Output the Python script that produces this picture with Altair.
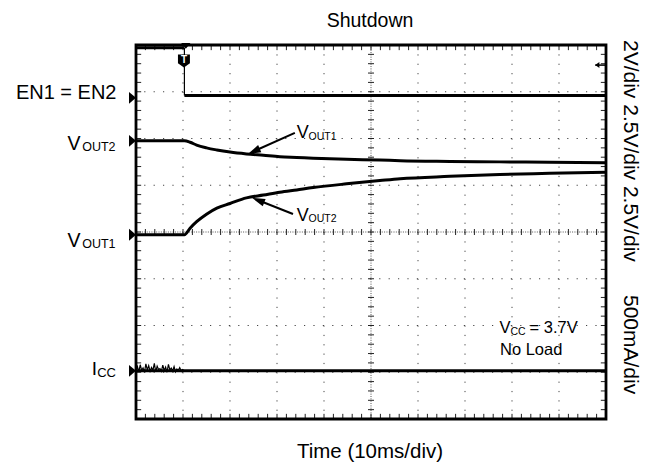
import math
import numpy as np
import pandas as pd
import altair as alt

# ---------------- data ----------------
# time in ms (10 ms/div, 10 divisions); level in divisions (8 divisions)
t_vout = [0, 10.3, 11.5, 12.9, 15, 17.2, 20, 23.5, 27.1, 30.6, 34.2, 37.7, 44.8, 51.9, 56.2, 66.8, 77.4, 88, 100]
vout_upper = [5.95, 5.95, 5.92, 5.86, 5.80, 5.755, 5.71, 5.67, 5.64, 5.61, 5.595, 5.58, 5.555, 5.54, 5.525, 5.51, 5.50, 5.49, 5.48]
vout_lower = [3.94, 3.94, 4.08, 4.22, 4.38, 4.51, 4.61, 4.73, 4.79, 4.85, 4.90, 4.95, 5.03, 5.10, 5.14, 5.19, 5.23, 5.255, 5.28]

en_high_t = [0, 10.3]
en_high_v = [7.94, 7.94]
en_edge_t = [10.3, 10.3]
en_edge_v = [7.94, 6.92]
en_low_t = [10.3, 100]
en_low_v = [6.92, 6.92]

icc_base_t = [0, 100]
icc_base_v = [1.03, 1.03]
icc_noise_t = [0.0, 0.3, 0.6, 0.9, 1.2, 1.5, 1.8, 2.1, 2.4, 2.7, 3.0, 3.3, 3.6, 3.9, 4.2, 4.5, 4.8,
               5.1, 5.4, 5.7, 6.0, 6.3, 6.6, 6.9, 7.2, 7.5, 7.8, 8.1, 8.4, 8.7, 9.0, 9.3, 9.6, 9.9, 10.3]
icc_noise_v = [1.03, 1.12, 1.01, 1.16, 1.04, 1.09, 1.00, 1.18, 1.05, 1.14, 1.02, 1.10, 1.04, 1.19, 1.01, 1.13, 1.06,
               1.08, 1.02, 1.15, 1.04, 1.11, 1.00, 1.17, 1.05, 1.09, 1.03, 1.12, 1.01, 1.07, 1.04, 1.10, 1.03, 1.06, 1.03]

marker_levels = [6.87, 5.95, 3.94, 1.03]

arrow_start_t = [33.8, 33.4]
arrow_start_v = [6.12, 4.385]
arrow_tip_t = [23.8, 24.7]
arrow_tip_v = [5.67, 4.73]

trigger_t = [10.2]
trigger_v = [7.66]
trig_pos_t = [10.6]
trig_pos_v = [7.92]
trig_level_v = [7.57]

# ---------------- layout ----------------
W, H = 470, 374
PX_T = W / 100.0   # px per ms
PX_V = H / 8.0     # px per division
FONT = "Liberation Sans"

xs = alt.Scale(domain=[0, 100], nice=False, zero=False)
ys = alt.Scale(domain=[0, 8], nice=False, zero=False)


def X(f):
    return alt.X(f, type="quantitative", scale=xs, axis=None)


def Y(f):
    return alt.Y(f, type="quantitative", scale=ys, axis=None)


def X2(f):
    return alt.X2(f)


def Y2(f):
    return alt.Y2(f)


def line(ts, vs, width, interp="linear"):
    df = pd.DataFrame({"t": ts, "v": vs})
    return alt.Chart(df).mark_line(color="black", strokeWidth=width, interpolate=interp,
                                   strokeCap="butt").encode(x=X("t"), y=Y("v"))


def txt(s, x, y, size, align="left", angle=0, baseline="alphabetic"):
    return alt.Chart(pd.DataFrame({"a": [0]})).mark_text(
        text=s, align=align, baseline=baseline, fontSize=size, font=FONT, color="black", angle=angle
    ).encode(x=alt.value(x), y=alt.value(y))


layers = []

# grid (dotted)
gx = pd.DataFrame({"t": [10, 20, 30, 40, 60, 70, 80, 90]})
gy = pd.DataFrame({"v": [1, 2, 3, 5, 6, 7]})
layers.append(alt.Chart(gx).mark_rule(color="#444", strokeWidth=1, strokeDash=[1.2, 8.15]).encode(x=X("t")))
layers.append(alt.Chart(gy).mark_rule(color="#444", strokeWidth=1, strokeDash=[1.2, 8.2]).encode(y=Y("v")))
# centre cross
layers.append(alt.Chart(pd.DataFrame({"t": [50]})).mark_rule(color="#555", strokeWidth=1, strokeDash=[1, 1.34]).encode(x=X("t")))
layers.append(alt.Chart(pd.DataFrame({"v": [4]})).mark_rule(color="#555", strokeWidth=1, strokeDash=[1, 1.35]).encode(y=Y("v")))

# minor ticks
mt = np.arange(2, 100, 2)
mv = np.round(np.arange(0.2, 8.0, 0.2), 3)
rows = []
for t in mt:
    rows.append((t, 0, t, 0.11))
    rows.append((t, 8, t, 7.89))
    rows.append((t, 4 - 3 / PX_V, t, 4 + 3 / PX_V))
for v in mv:
    rows.append((0, v, 1.1, v))
    rows.append((100, v, 98.9, v))
    rows.append((50 - 3 / PX_T, v, 50 + 3 / PX_T, v))
ticks = pd.DataFrame(rows, columns=["x", "y", "x2", "y2"])
layers.append(alt.Chart(ticks).mark_rule(color="#222", strokeWidth=1).encode(
    x=X("x"), y=Y("y"), x2=X2("x2"), y2=Y2("y2")))

# traces
layers.append(line(en_high_t, en_high_v, 3))
layers.append(line(en_edge_t, en_edge_v, 1.2))
layers.append(line(en_low_t, en_low_v, 3))
layers.append(line(t_vout, vout_upper, 3, "monotone"))
layers.append(line(t_vout, vout_lower, 3, "monotone"))
layers.append(line(icc_base_t, icc_base_v, 3))
layers.append(line(icc_noise_t, icc_noise_v, 1.2))

# channel reference markers on the left edge
mk = pd.DataFrame({"t": [0] * len(marker_levels), "v": marker_levels})
layers.append(alt.Chart(mk).mark_point(shape="M0,0L-1,-0.85L-1,0.85Z", filled=True, color="black",
                                       opacity=1, size=196, strokeWidth=0).encode(x=X("t"), y=Y("v")))

# trigger markers
trg = pd.DataFrame({"t": trigger_t, "v": trigger_v})
layers.append(alt.Chart(trg).mark_point(shape="M-0.92,-1L0.92,-1L0.92,0.35L0,1L-0.92,0.35Z", filled=True,
                                        color="black", opacity=1, size=169, strokeWidth=0).encode(x=X("t"), y=Y("v")))
layers.append(alt.Chart(trg).mark_text(text="T", fontSize=10, fontWeight="bold", color="white", font=FONT,
                                       align="center", baseline="middle", dy=-1).encode(x=X("t"), y=Y("v")))
tp = pd.DataFrame({"t": trig_pos_t, "v": trig_pos_v})
layers.append(alt.Chart(tp).mark_point(shape="M0,0L-1,-1.2L1,-1.2Z", filled=True, color="black", opacity=1,
                                       size=88, strokeWidth=0).encode(x=X("t"), y=Y("v")))
tl = pd.DataFrame({"t": [97.7], "t2": [100], "v": trig_level_v})
layers.append(alt.Chart(tl).mark_rule(color="black", strokeWidth=1.5).encode(x=X("t"), x2=X2("t2"), y=Y("v")))
layers.append(alt.Chart(tl).mark_point(shape="M0,0L1.4,-1L1.4,1Z", filled=True, color="black", opacity=1,
                                       size=36, strokeWidth=0).encode(x=X("t"), y=Y("v")))

# annotation arrows
arr_rows = []
for st, sv, tt, tv in zip(arrow_start_t, arrow_start_v, arrow_tip_t, arrow_tip_v):
    dx = (tt - st) * PX_T
    dy = -(tv - sv) * PX_V
    ang = math.degrees(math.atan2(dx, -dy)) % 360
    et = st + 0.85 * (tt - st)
    ev = sv + 0.85 * (tv - sv)
    arr_rows.append((st, sv, et, ev, tt, tv, ang))
arr = pd.DataFrame(arr_rows, columns=["st", "sv", "et", "ev", "tt", "tv", "ang"])
layers.append(alt.Chart(arr).mark_rule(color="black", strokeWidth=2).encode(
    x=X("st"), y=Y("sv"), x2=X2("et"), y2=Y2("ev")))
layers.append(alt.Chart(arr).mark_point(shape="M0,0L0.6,2L-0.6,2Z", filled=True, color="black", opacity=1,
                                        size=169, strokeWidth=0).encode(
    x=X("tt"), y=Y("tv"), angle=alt.Angle("ang", type="quantitative", scale=None)))

# frame
frame = pd.DataFrame({"x0": [0], "x1": [100], "y0": [0], "y1": [8]})
layers.append(alt.Chart(frame).mark_rect(fillOpacity=0, stroke="black", strokeWidth=2.8).encode(
    x=X("x0"), x2=X2("x1"), y=Y("y0"), y2=Y2("y1")))

# texts
layers.append(txt("Shutdown", 234, -18, 19.5, align="center"))
layers.append(txt("Time (10ms/div)", 234, 413, 20.5, align="center"))

layers.append(txt("EN1 = EN2", -19.5, 54, 20, align="right"))
layers.append(txt("V", -55.5, 105, 19.5, align="right"))
layers.append(txt("OUT2", -20.5, 106, 12.5, align="right"))
layers.append(txt("V", -55.5, 202, 19.5, align="right"))
layers.append(txt("OUT1", -20.5, 203, 12.5, align="right"))
layers.append(txt("I", -39, 330, 19, align="right"))
layers.append(txt("CC", -20, 332, 13, align="right"))

layers.append(txt("V", 160.7, 93.3, 18))
layers.append(txt("OUT1", 172.5, 94.8, 10.5))
layers.append(txt("V", 160.7, 175.7, 18))
layers.append(txt("OUT2", 172.5, 177.2, 10.5))

layers.append(txt("V", 363.5, 288.3, 16.5))
layers.append(txt("CC", 374.5, 290.3, 10.5))
layers.append(txt("= 3.7V", 393.5, 288.3, 16.5))
layers.append(txt("No Load", 364, 310, 16.5))

layers.append(txt("2V/div 2.5V/div 2.5V/div", 494, -5, 21, angle=90, baseline="middle"))
layers.append(txt("500mA/div", 494, 250, 21, angle=90, baseline="middle"))

chart = alt.layer(*layers).properties(
    width=W,
    height=H,
    padding={"left": 128, "top": 37, "right": 38, "bottom": 43},
    autosize=alt.AutoSizeParams(type="none"),
).configure_view(stroke=None)

chart.save("out.html", embed_options={"renderer": "svg", "actions": False})
